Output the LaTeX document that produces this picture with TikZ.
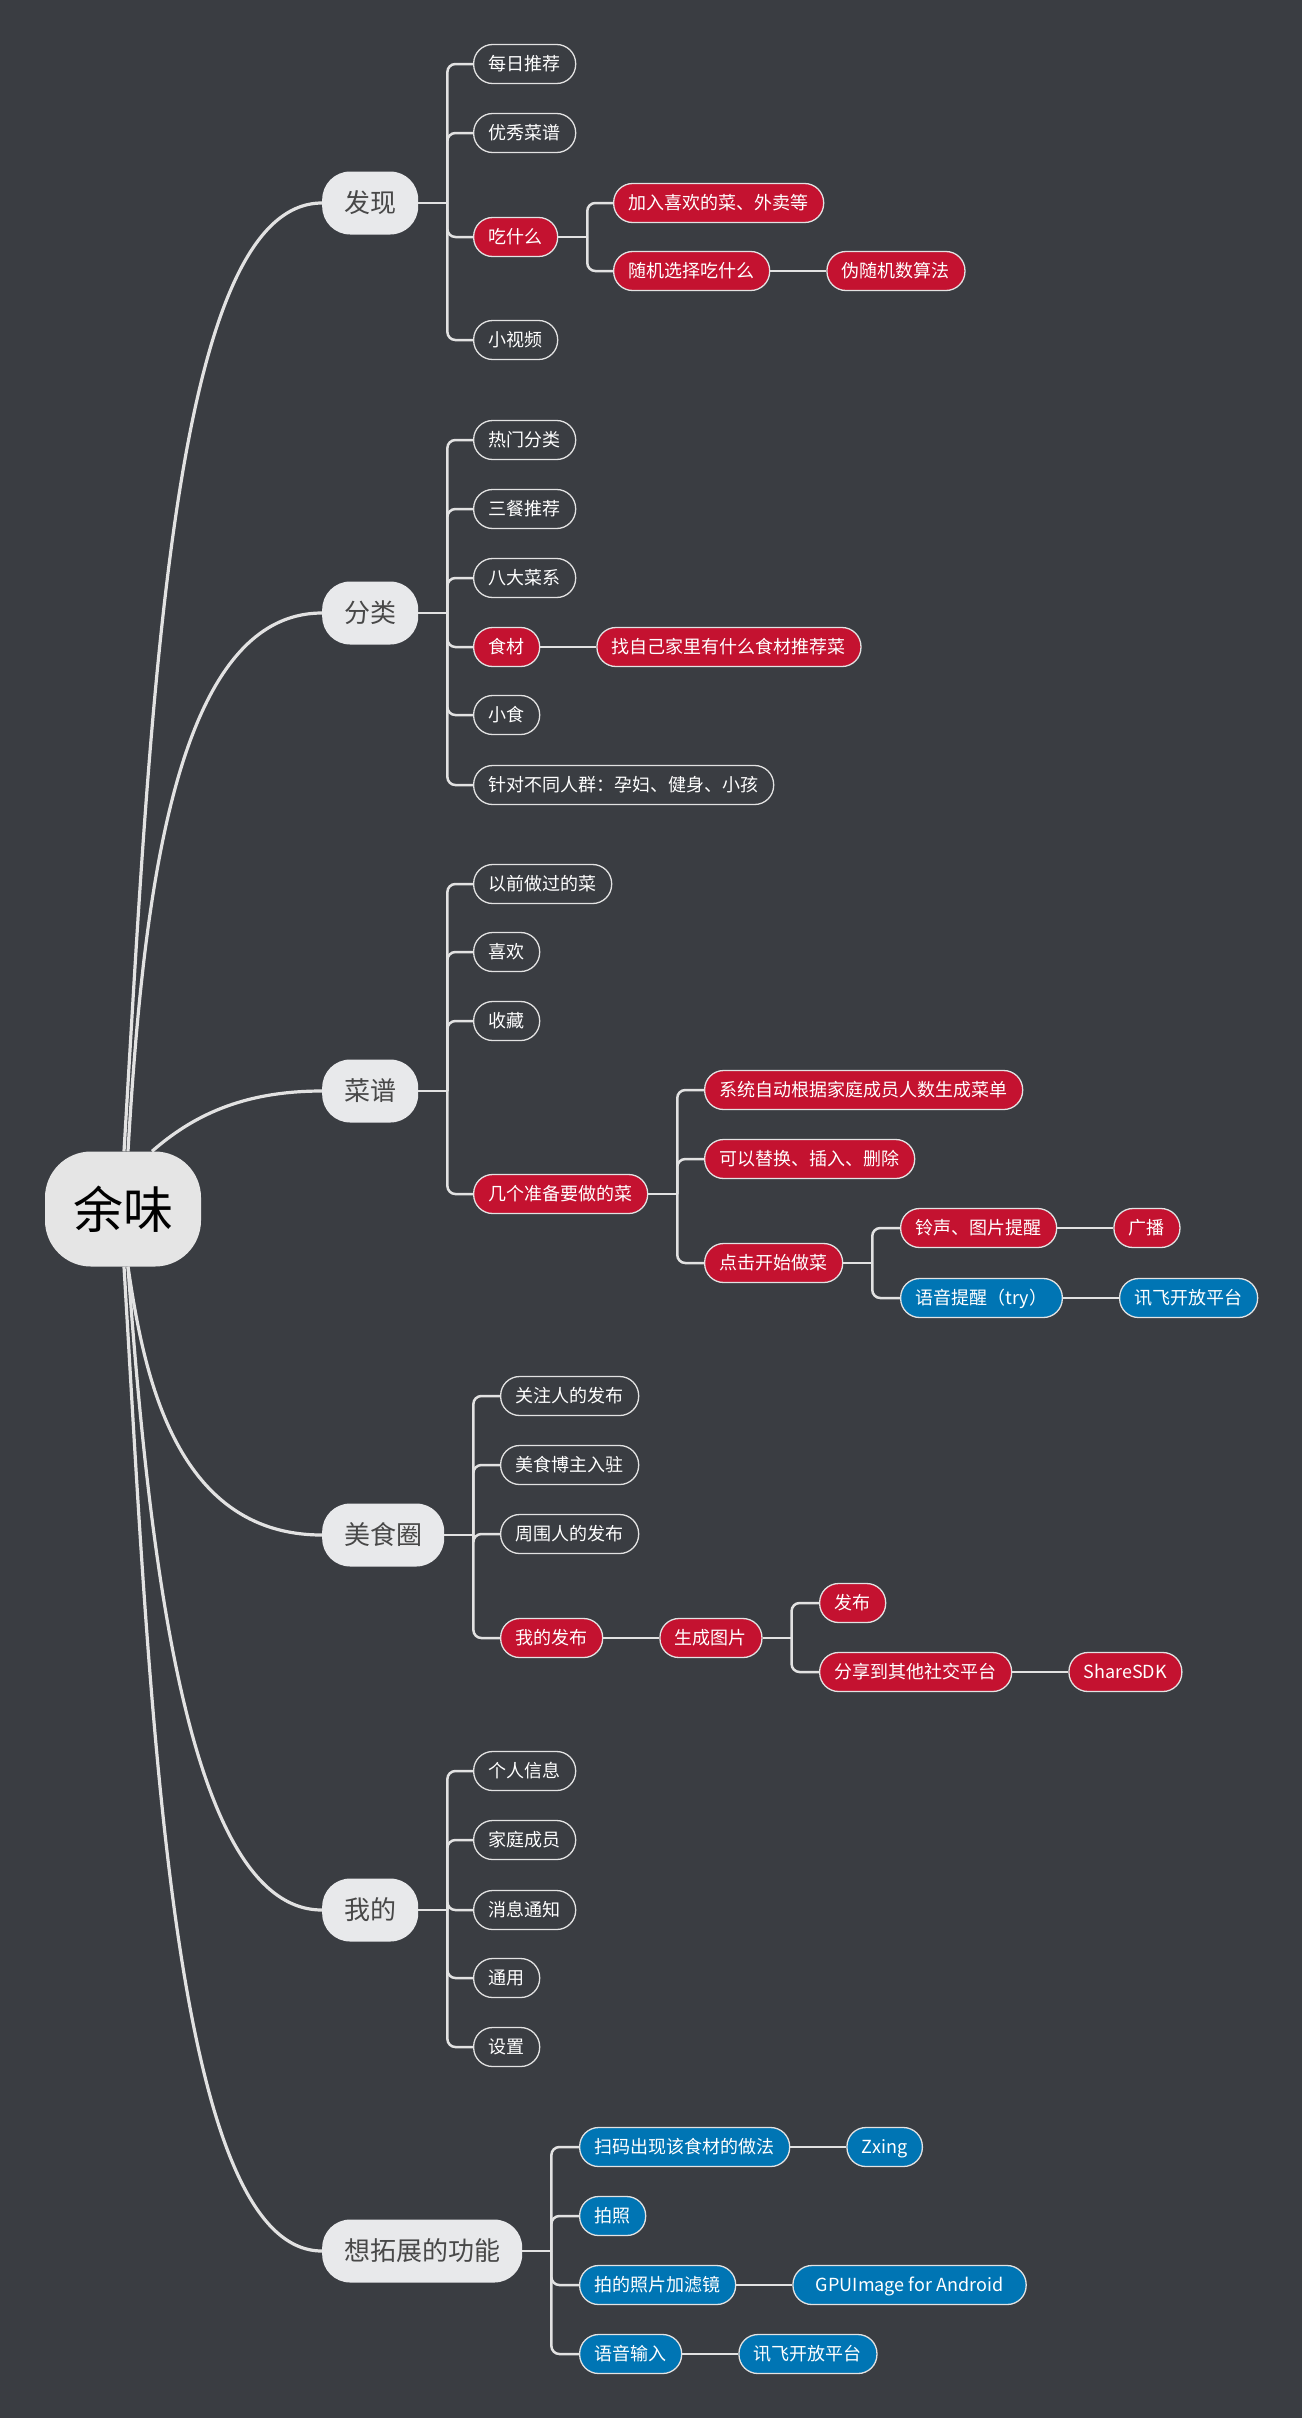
\documentclass[tikz,border=0pt]{standalone}
\usepackage{fontspec}
\setmainfont{Noto Sans CJK SC}
\usetikzlibrary{positioning}

\definecolor{bgdark}{RGB}{58,61,66}
\definecolor{linegray}{RGB}{226,226,226}
\definecolor{redc}{RGB}{196,18,48}
\definecolor{bluec}{RGB}{0,117,180}
\definecolor{maingray}{RGB}{232,233,235}
\definecolor{maintext}{RGB}{72,72,72}
\definecolor{rootgray}{RGB}{229,229,229}

\begin{document}
\begin{tikzpicture}[x=1pt, y=-1pt,
    rootbox/.style={fill=rootgray, text=black, rounded corners=46pt, minimum width=156pt, minimum height=115pt, font=\fontsize{50pt}{56pt}\selectfont},
    mainbox/.style={fill=maingray, text=maintext, rounded corners=28pt, minimum height=63pt, inner xsep=22pt, inner ysep=0pt, text height=23pt, text depth=4pt, anchor=west, font=\fontsize{26pt}{30pt}\selectfont},
    leafbox/.style={draw=linegray, line width=1.3pt, fill=bgdark, text=white, rounded corners=19pt, minimum height=39pt, inner xsep=15pt, inner ysep=0pt, text height=14.5pt, text depth=2.5pt, anchor=west, font=\fontsize{18pt}{21pt}\selectfont},
    redbox/.style={leafbox, fill=redc},
    bluebox/.style={leafbox, fill=bluec},
    trunk/.style={draw=linegray, line width=3.2pt},
    elbow/.style={draw=linegray, line width=2.5pt, rounded corners=8pt}]

    \useasboundingbox (0,0) rectangle (1310,2434);
    \fill[white] (0,0) rectangle (1310,2434);
    \fill[bgdark] (0,0) rectangle (1302,2418);

    % Root and main branches
    \node[rootbox] (rt) at (123,1209) {余味};
    \node[mainbox] (fx) at (322,203) {发现};
    \node[mainbox] (fl) at (322,613) {分类};
    \node[mainbox] (cp) at (322,1091) {菜谱};
    \node[mainbox] (msq) at (322,1535) {美食圈};
    \node[mainbox] (wd) at (322,1910) {我的};
    \node[mainbox] (tz) at (322,2251) {想拓展的功能};

    % 发现
    \node[leafbox] (fx1) at (473,64) {每日推荐};
    \node[leafbox] (fx2) at (473,133) {优秀菜谱};
    \node[redbox] (fx3) at (473,237) {吃什么};
    \node[leafbox] (fx4) at (473,340) {小视频};
    \node[redbox] (fx31) at (613,203) {加入喜欢的菜、外卖等};
    \node[redbox] (fx32) at (613,271) {随机选择吃什么};
    \node[redbox, right=56pt of fx32] (fx321) {伪随机数算法};

    % 分类
    \node[leafbox] (fl1) at (473,440) {热门分类};
    \node[leafbox] (fl2) at (473,509) {三餐推荐};
    \node[leafbox] (fl3) at (473,578) {八大菜系};
    \node[redbox] (fl4) at (473,647) {食材};
    \node[leafbox] (fl5) at (473,715) {小食};
    \node[leafbox] (fl6) at (473,785) {针对不同人群：孕妇、健身、小孩};
    \node[redbox, right=56pt of fl4] (fl41) {找自己家里有什么食材推荐菜};

    % 菜谱
    \node[leafbox] (cp1) at (473,884) {以前做过的菜};
    \node[leafbox] (cp2) at (473,952) {喜欢};
    \node[leafbox] (cp3) at (473,1021) {收藏};
    \node[redbox] (cp4) at (473,1194) {几个准备要做的菜};
    \node[redbox] (cp41) at (704,1090) {系统自动根据家庭成员人数生成菜单};
    \node[redbox] (cp42) at (704,1159) {可以替换、插入、删除};
    \node[redbox] (cp43) at (704,1263) {点击开始做菜};
    \node[redbox] (cp431) at (900,1228) {铃声、图片提醒};
    \node[bluebox] (cp432) at (900,1298) {语音提醒（try）};
    \node[redbox, right=56pt of cp431] (cp4311) {广播};
    \node[bluebox, right=56pt of cp432] (cp4321) {讯飞开放平台};

    % 美食圈
    \node[leafbox] (msq1) at (500,1396) {关注人的发布};
    \node[leafbox] (msq2) at (500,1465) {美食博主入驻};
    \node[leafbox] (msq3) at (500,1534) {周围人的发布};
    \node[redbox] (msq4) at (500,1638) {我的发布};
    \node[redbox, right=56pt of msq4] (msq41) {生成图片};
    \node[redbox] (msq411) at (819,1603) {发布};
    \node[redbox] (msq412) at (819,1672) {分享到其他社交平台};
    \node[redbox, right=56pt of msq412] (msq4121) {ShareSDK};

    % 我的
    \node[leafbox] (wd1) at (473,1771) {个人信息};
    \node[leafbox] (wd2) at (473,1840) {家庭成员};
    \node[leafbox] (wd3) at (473,1910) {消息通知};
    \node[leafbox] (wd4) at (473,1978) {通用};
    \node[leafbox] (wd5) at (473,2047) {设置};

    % 想拓展的功能
    \node[bluebox] (tz1) at (579,2147) {扫码出现该食材的做法};
    \node[bluebox] (tz2) at (579,2216) {拍照};
    \node[bluebox] (tz3) at (579,2285) {拍的照片加滤镜};
    \node[bluebox] (tz4) at (579,2354) {语音输入};
    \node[bluebox, right=56pt of tz1] (tz11) {Zxing};
    \node[bluebox, right=56pt of tz3, inner xsep=23pt] (tz31) {GPUImage for Android};
    \node[bluebox, right=56pt of tz4] (tz41) {讯飞开放平台};

    % Curves from the root
    \draw[trunk] ([xshift=1pt]rt.north) .. controls +(27,-450) and +(-150,0) .. (fx.west);
    \draw[trunk] ([xshift=5pt]rt.north) .. controls +(15,-254) and +(-147,0) .. (fl.west);
    \draw[trunk] ([xshift=29pt]rt.north) .. controls +(40,-35) and +(-80,0) .. (cp.west);
    \draw[trunk] ([xshift=5pt]rt.south) .. controls +(15,100) and +(-150,0) .. (msq.west);
    \draw[trunk] ([xshift=5pt]rt.south) .. controls +(22,302) and +(-132,0) .. (wd.west);
    \draw[trunk] ([xshift=1pt]rt.south) .. controls +(27,450) and +(-150,0) .. (tz.west);

    % Spines
    \foreach \p in {fx,fx3,fl,cp,cp4,cp43,msq,msq41,wd,tz} {
        \coordinate (\p-s) at ([xshift=29pt]\p.east);
        \draw[elbow] (\p.east) -- (\p-s);
    }

    % Elbows
    \foreach \c in {fx1,fx2,fx3,fx4} \draw[elbow] (fx-s) |- (\c.west);
    \foreach \c in {fx31,fx32} \draw[elbow] (fx3-s) |- (\c.west);
    \foreach \c in {fl1,fl2,fl3,fl4,fl5,fl6} \draw[elbow] (fl-s) |- (\c.west);
    \foreach \c in {cp1,cp2,cp3,cp4} \draw[elbow] (cp-s) |- (\c.west);
    \foreach \c in {cp41,cp42,cp43} \draw[elbow] (cp4-s) |- (\c.west);
    \foreach \c in {cp431,cp432} \draw[elbow] (cp43-s) |- (\c.west);
    \foreach \c in {msq1,msq2,msq3,msq4} \draw[elbow] (msq-s) |- (\c.west);
    \foreach \c in {msq411,msq412} \draw[elbow] (msq41-s) |- (\c.west);
    \foreach \c in {wd1,wd2,wd3,wd4,wd5} \draw[elbow] (wd-s) |- (\c.west);
    \foreach \c in {tz1,tz2,tz3,tz4} \draw[elbow] (tz-s) |- (\c.west);

    % Single links
    \draw[elbow] (fx32) -- (fx321);
    \draw[elbow] (fl4) -- (fl41);
    \draw[elbow] (cp431) -- (cp4311);
    \draw[elbow] (cp432) -- (cp4321);
    \draw[elbow] (msq4) -- (msq41);
    \draw[elbow] (msq412) -- (msq4121);
    \draw[elbow] (tz1) -- (tz11);
    \draw[elbow] (tz3) -- (tz31);
    \draw[elbow] (tz4) -- (tz41);
\end{tikzpicture}
\end{document}
